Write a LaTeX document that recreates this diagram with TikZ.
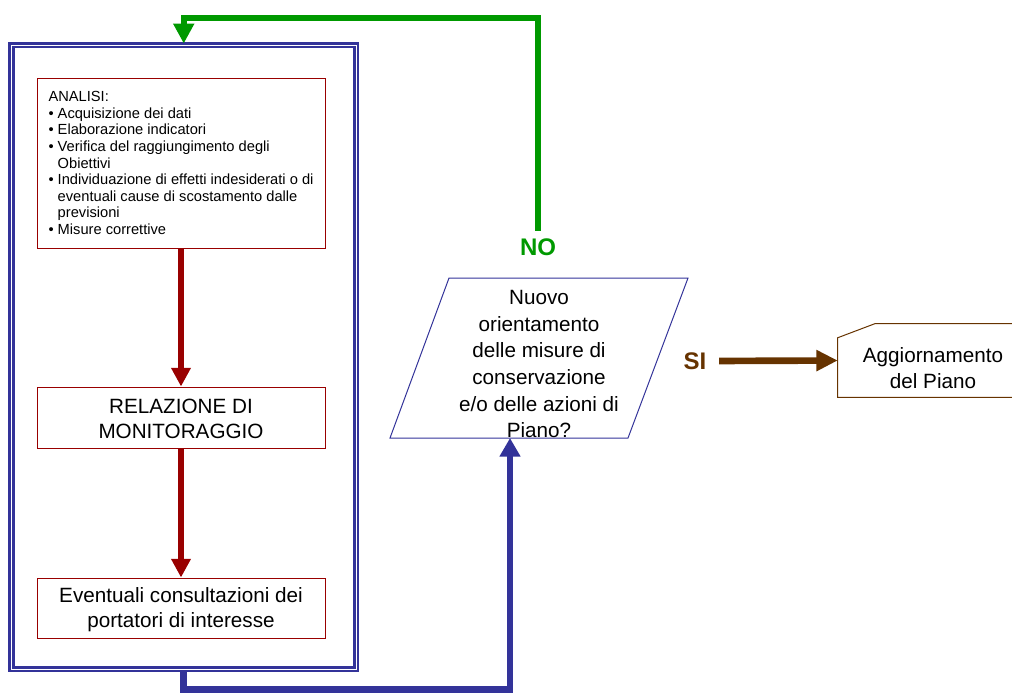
\documentclass[tikz,border=0pt]{standalone}
\usepackage{fontspec}
\setmainfont{Liberation Sans}
\usetikzlibrary{arrows.meta,calc}

\definecolor{frameblue}{HTML}{333399}
\definecolor{boxred}{HTML}{990000}
\definecolor{linegreen}{HTML}{009900}
\definecolor{linebrown}{HTML}{663300}

\newcommand{\bulletpad}{\phantom{\textbullet\ }}

\tikzset{
  frame/.style={draw=frameblue, double=white, double distance=0.6pt, line width=2.2pt,
    minimum width=258.4pt, minimum height=468pt, inner sep=0pt},
  redbox/.style={draw=boxred, line width=0.75pt, minimum width=216pt, inner sep=0pt,
    align=center, font=\fontsize{15.5}{19}\selectfont},
  bigtext/.style={align=center, font=\fontsize{15.5}{19}\selectfont},
  answer/.style={font=\fontsize{18}{20}\selectfont\bfseries},
  redarrow/.style={draw=boxred, line width=4.5pt, -{Triangle[width=14pt,length=14pt]}},
  bluearrow/.style={draw=frameblue, line width=5pt, -{Triangle[width=15pt,length=14pt]}},
  greenarrow/.style={draw=linegreen, line width=4.5pt, -{Triangle[width=15pt,length=15pt]}},
  brownarrow/.style={draw=linebrown, line width=5pt, -{Triangle[width=15pt,length=16pt]}}
}

\begin{document}
\begin{tikzpicture}[x=0.75pt, y=-0.75pt]
    \useasboundingbox (0,0) rectangle (1012,693);
    \clip (0,0) rectangle (1012,693);

    % left block
    \node [frame] (frame) at (183.75,357) {};

    \node [redbox, align=left, minimum height=127.5pt, font=\fontsize{11}{12.4}\selectfont] (anal) at (181,163)
        {ANALISI:\\
         \textbullet\ Acquisizione dei dati\\
         \textbullet\ Elaborazione indicatori\\
         \textbullet\ Verifica del raggiungimento degli\\
         \bulletpad Obiettivi\\
         \textbullet\ Individuazione di effetti indesiderati o di\\
         \bulletpad eventuali cause di scostamento dalle\\
         \bulletpad previsioni\\
         \textbullet\ Misure correttive};
    \node [redbox, minimum height=45.75pt] (rel) at (181,417.5) {\strut RELAZIONE DI\\MONITORAGGIO};
    \node [redbox, minimum height=45pt] (event) at (181,608) {\strut Eventuali consultazioni dei\\portatori di interesse};

    \draw [redarrow] (anal.south) -- (rel.north);
    \draw [redarrow] (rel.south) -- (event.north);

    % question
    \draw [frameblue, line width=0.75pt] (390,438) -- (449,278) -- (688,278) -- (628,438) -- cycle;
    \node [bigtext, font=\fontsize{15.5}{20}\selectfont] (quest) at (539,364) {Nuovo\\orientamento\\delle misure di\\conservazione\\e/o delle azioni di\\Piano?};
    \coordinate (qin) at (510,438);

    \draw [bluearrow] (frame.south) -- ++(0,19) -| (qin);

    % answers
    \node [answer, text=linegreen] (no) at (538,247) {NO};
    \draw [greenarrow] (no.north) ++(0,-3) -- (no.north |- 0,18) -| (frame.north);

    \node [answer, text=linebrown] (si) at (695,361) {SI};
    \node [minimum width=142.5pt, minimum height=54.75pt] (agg) at (933,360.5) {};
    \node [bigtext] (aggtext) at (933,368) {Aggiornamento\\del Piano};
    \draw [linebrown, line width=0.75pt] (agg.north east) -- ($(agg.north west)+(37,0)$)
        -- ($(agg.north west)+(0,14)$) -- (agg.south west) -- (agg.south east);
    \draw [brownarrow, shorten <=6pt] (si.east) -- (agg.west);
\end{tikzpicture}
\end{document}
